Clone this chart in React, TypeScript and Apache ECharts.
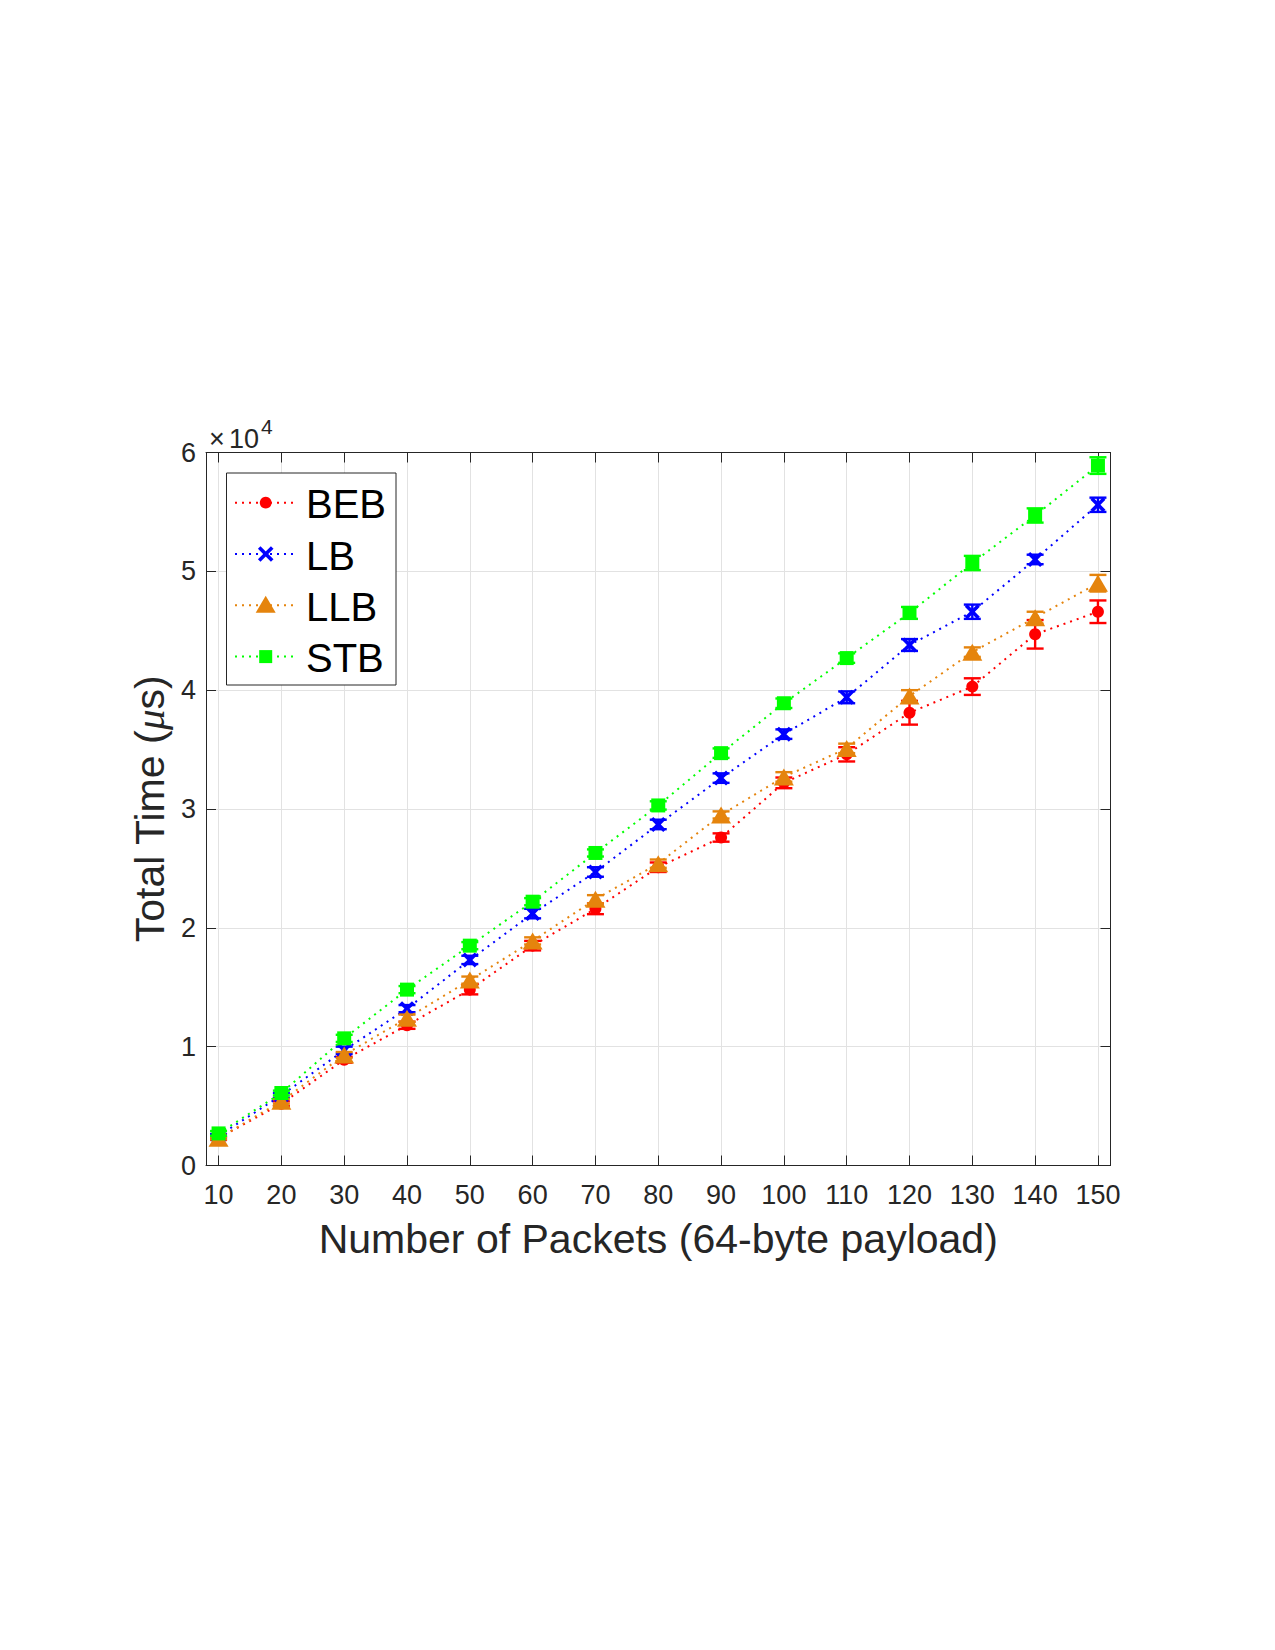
import React, { useEffect, useRef } from 'react';
import * as echarts from 'echarts';

// Number of packets sent (x axis)
const packets = [10, 20, 30, 40, 50, 60, 70, 80, 90, 100, 110, 120, 130, 140, 150];

// Mean total time in microseconds, and the half-width of each error bar
const bebMean = [2300, 5200, 8900, 11800, 14800, 18500, 21600, 25100, 27600, 32200, 34600, 38100, 40300, 44700, 46600];
const bebErr = [150, 200, 250, 300, 400, 400, 450, 400, 350, 450, 600, 1000, 700, 1200, 950];

const lbMean = [2500, 5900, 9700, 13200, 17300, 21200, 24700, 28700, 32600, 36300, 39400, 43800, 46600, 51000, 55600];
const lbErr = [150, 200, 300, 300, 350, 400, 400, 400, 400, 400, 500, 500, 600, 400, 600];

const llbMean = [2300, 5400, 9300, 12400, 15600, 18900, 22400, 25400, 29500, 32700, 35100, 39500, 43200, 46100, 49000];
const llbErr = [100, 200, 250, 300, 300, 300, 350, 350, 300, 400, 400, 500, 400, 500, 700];

const stbMean = [2700, 6100, 10700, 14800, 18500, 22200, 26300, 30300, 34700, 38900, 42700, 46500, 50700, 54700, 58900];
const stbErr = [200, 200, 300, 300, 300, 300, 300, 350, 400, 400, 400, 500, 600, 600, 700];

const FONT = '"Liberation Sans", Arial, Helvetica, sans-serif';
const AXIS_COLOR = '#262626';
const GRID_COLOR = '#e2e2e2';
const TICK_FONT_SIZE = 27;

// Thick "x" marker as a closed polygon so it can be filled
const X_SYMBOL =
  'path://M0,1.7L1.7,0L5,3.3L8.3,0L10,1.7L6.7,5L10,8.3L8.3,10L5,6.7L1.7,10L0,8.3L3.3,5Z';

type MarkerKind = 'circle' | 'x' | 'triangle' | 'square';

type Spec = {
  name: string;
  color: string;
  mean: number[];
  err: number[];
  marker: MarkerKind;
  symbol: string;
  symbolSize: number | number[];
};

const specs: Spec[] = [
  { name: 'BEB', color: '#ff0000', mean: bebMean, err: bebErr, marker: 'circle', symbol: 'circle', symbolSize: 12 },
  { name: 'LB', color: '#0000ff', mean: lbMean, err: lbErr, marker: 'x', symbol: X_SYMBOL, symbolSize: 15 },
  { name: 'LLB', color: '#e5840d', mean: llbMean, err: llbErr, marker: 'triangle', symbol: 'triangle', symbolSize: [20, 17] },
  { name: 'STB', color: '#00ff00', mean: stbMean, err: stbErr, marker: 'square', symbol: 'rect', symbolSize: 14 },
];

function errorBarSeries(spec: Spec, z: number) {
  const data = packets.map((p, i) => [p, spec.mean[i] - spec.err[i], spec.mean[i] + spec.err[i]]);
  return {
    type: 'custom',
    name: spec.name + ' error',
    z,
    data,
    encode: { x: 0, y: [1, 2] },
    renderItem: (_params: any, api: any) => {
      const x = api.value(0);
      const lo = api.coord([x, api.value(1)]);
      const hi = api.coord([x, api.value(2)]);
      const hw = 8.5;
      const style = { stroke: spec.color, lineWidth: 2.4, fill: 'none' };
      return {
        type: 'group',
        children: [
          { type: 'line', shape: { x1: lo[0], y1: lo[1], x2: hi[0], y2: hi[1] }, style },
          { type: 'line', shape: { x1: lo[0] - hw, y1: lo[1], x2: lo[0] + hw, y2: lo[1] }, style },
          { type: 'line', shape: { x1: hi[0] - hw, y1: hi[1], x2: hi[0] + hw, y2: hi[1] }, style },
        ],
      };
    },
  };
}

function lineSeries(spec: Spec, z: number) {
  return {
    type: 'line',
    name: spec.name,
    z,
    data: packets.map((p, i) => [p, spec.mean[i]]),
    symbol: spec.symbol,
    symbolSize: spec.symbolSize,
    showAllSymbol: true,
    itemStyle: { color: spec.color, borderWidth: 0 },
    lineStyle: { color: spec.color, width: 2, type: [2, 5], cap: 'butt' },
  };
}

// Legend box drawn by hand: dotted sample line, marker and name per row
function legendMarker(spec: Spec, cx: number, cy: number): any[] {
  const z = 101;
  switch (spec.marker) {
    case 'circle':
      return [{ type: 'circle', z, shape: { cx, cy, r: 5.9 }, style: { fill: spec.color } }];
    case 'x':
      return [
        { type: 'line', z, shape: { x1: cx - 6.5, y1: cy - 6.5, x2: cx + 6.5, y2: cy + 6.5 }, style: { stroke: spec.color, lineWidth: 3.6 } },
        { type: 'line', z, shape: { x1: cx - 6.5, y1: cy + 6.5, x2: cx + 6.5, y2: cy - 6.5 }, style: { stroke: spec.color, lineWidth: 3.6 } },
      ];
    case 'triangle':
      return [
        {
          type: 'polygon',
          z,
          shape: { points: [[cx, cy - 9.5], [cx - 10, cy + 7.5], [cx + 10, cy + 7.5]] },
          style: { fill: spec.color },
        },
      ];
    default:
      return [{ type: 'rect', z, shape: { x: cx - 6.5, y: cy - 6.5, width: 13, height: 13 }, style: { fill: spec.color } }];
  }
}

function legendGraphic(): any[] {
  const boxX = 226.5;
  const boxY = 473;
  const rowY0 = 502.7;
  const rowGap = 51.3;
  const items: any[] = [
    {
      type: 'rect',
      z: 99,
      shape: { x: boxX, y: boxY, width: 169.5, height: 212 },
      style: { fill: '#ffffff', stroke: AXIS_COLOR, lineWidth: 1 },
    },
  ];
  specs.forEach((s, i) => {
    const cy = rowY0 + i * rowGap;
    items.push({
      type: 'line',
      z: 100,
      shape: { x1: 235, y1: cy, x2: 297, y2: cy },
      style: { stroke: s.color, lineWidth: 2, lineDash: [2, 5] },
    });
    items.push(...legendMarker(s, 265.7, cy));
    items.push({
      type: 'text',
      z: 100,
      x: 306,
      y: cy + 1.5,
      style: { text: s.name, fontSize: 40, fontFamily: FONT, fill: '#000000', align: 'left', verticalAlign: 'middle' },
    });
  });
  return items;
}

export default function App() {
  const ref = useRef<HTMLDivElement>(null);

  useEffect(() => {
    if (!ref.current) return;
    const chart = echarts.init(ref.current, null, { renderer: 'svg' });

    const series: any[] = [];
    specs.forEach((s, i) => {
      series.push(errorBarSeries(s, 3 + i * 2));
      series.push(lineSeries(s, 4 + i * 2));
    });

    const xBase = {
      type: 'value',
      min: 8,
      max: 152,
      axisLine: { show: true, onZero: false, lineStyle: { color: AXIS_COLOR, width: 1 } },
      axisTick: { show: true, inside: true, length: 10, customValues: packets, lineStyle: { color: AXIS_COLOR, width: 1 } },
    };
    const yBase = {
      type: 'value',
      min: 0,
      max: 60000,
      interval: 10000,
      axisLine: { show: true, onZero: false, lineStyle: { color: AXIS_COLOR, width: 1 } },
      axisTick: { show: true, inside: true, length: 10, lineStyle: { color: AXIS_COLOR, width: 1 } },
    };

    chart.setOption({
      animation: false,
      backgroundColor: '#ffffff',
      grid: { left: 206, top: 452.5, width: 904.5, height: 713 },
      xAxis: [
        {
          ...xBase,
          position: 'bottom',
          axisLabel: { customValues: packets, fontSize: TICK_FONT_SIZE, color: AXIS_COLOR, fontFamily: FONT, margin: 16 },
          splitLine: { show: true, customValues: packets, lineStyle: { color: GRID_COLOR, width: 1 } },
          name: 'Number of Packets (64-byte payload)',
          nameLocation: 'middle',
          nameGap: 53,
          nameTextStyle: { fontSize: 41, color: AXIS_COLOR, fontFamily: FONT },
        },
        {
          ...xBase,
          position: 'top',
          axisLabel: { show: false },
          splitLine: { show: false },
        },
      ],
      yAxis: [
        {
          ...yBase,
          position: 'left',
          axisLabel: {
            fontSize: TICK_FONT_SIZE,
            color: AXIS_COLOR,
            fontFamily: FONT,
            margin: 10,
            formatter: (v: number) => String(v / 10000),
          },
          splitLine: { show: true, lineStyle: { color: GRID_COLOR, width: 1 } },
          name: '{a|Total Time (}{m|μ}{a|s)}',
          nameLocation: 'middle',
          nameGap: 34,
          nameTextStyle: {
            color: AXIS_COLOR,
            rich: {
              a: { fontSize: 41, color: AXIS_COLOR, fontFamily: FONT },
              m: { fontSize: 41, color: AXIS_COLOR, fontFamily: '"Liberation Serif", serif', fontStyle: 'italic' },
            },
          },
        },
        {
          ...yBase,
          position: 'right',
          axisLabel: { show: false },
          splitLine: { show: false },
        },
      ],
      graphic: [
        // axis exponent: ×10^4
        {
          type: 'text',
          left: 209,
          top: 425.5,
          style: { text: '×', fontSize: 27, fill: AXIS_COLOR, fontFamily: FONT },
        },
        {
          type: 'text',
          left: 229,
          top: 425.5,
          style: { text: '10', fontSize: 27, fill: AXIS_COLOR, fontFamily: FONT },
        },
        {
          type: 'text',
          left: 261,
          top: 415.5,
          style: { text: '4', fontSize: 21, fill: AXIS_COLOR, fontFamily: FONT },
        },
        ...legendGraphic(),
      ],
      series,
    });

    return () => chart.dispose();
  }, []);

  return (
    <div
      ref={ref}
      style={{ position: 'absolute', left: 0, top: 0, width: 1275, height: 1650 }}
    />
  );
}
